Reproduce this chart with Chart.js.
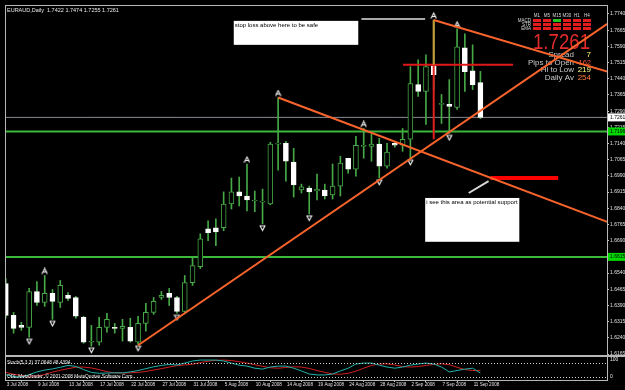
<!DOCTYPE html>
<html>
<head>
<meta charset="utf-8">
<script src="https://cdn.jsdelivr.net/npm/chart.js@4.4.1/dist/chart.umd.min.js"></script>
<style>
html, body { margin: 0; padding: 0; background: #000; }
canvas { display: block; }
</style>
</head>
<body>
<canvas id="chart" width="625" height="390"></canvas>
<script>
// EURAUD daily candles, 3 Jul - 12 Sep 2008
const dateLabels = ['3 Jul 2008', '9 Jul 2008', '13 Jul 2008', '17 Jul 2008', '22 Jul 2008', '27 Jul 2008', '31 Jul 2008', '5 Aug 2008',
    '10 Aug 2008', '14 Aug 2008', '19 Aug 2008', '24 Aug 2008', '28 Aug 2008', '2 Sep 2008', '7 Sep 2008', '11 Sep 2008'];

const opens = [1.6492, 1.6344, 1.6298, 1.6289, 1.6455, 1.6404, 1.6446, 1.6404, 1.6437, 1.6427, 1.6335, 1.6220, 1.6220, 1.6289, 1.6285, 1.6284,
    1.6289, 1.6220, 1.6307, 1.6358, 1.6427, 1.6446, 1.6427, 1.6363, 1.6496, 1.6570, 1.6745, 1.6750, 1.6750, 1.6860, 1.6916, 1.6897,
    1.6874, 1.6869, 1.6860, 1.7137, 1.7141, 1.7054, 1.6925, 1.6934, 1.6920, 1.6925, 1.6902, 1.6943, 1.7072, 1.7021, 1.7127, 1.7127,
    1.7137, 1.7035, 1.7141, 1.7132, 1.7160, 1.7413, 1.7381, 1.7500, 1.7321, 1.7321, 1.7307, 1.7583, 1.7477, 1.7422];
const highs = [1.6515, 1.6358, 1.6312, 1.6469, 1.6501, 1.6529, 1.6464, 1.6506, 1.6450, 1.6432, 1.6340, 1.6298, 1.6335, 1.6354, 1.6307, 1.6326,
    1.6331, 1.6340, 1.6400, 1.6427, 1.6455, 1.6469, 1.6432, 1.6529, 1.6612, 1.6722, 1.6782, 1.6791, 1.6916, 1.6980, 1.6985, 1.7045,
    1.6920, 1.6929, 1.7146, 1.7353, 1.7150, 1.7118, 1.6952, 1.6943, 1.6998, 1.6952, 1.7045, 1.7081, 1.7072, 1.7173, 1.7210, 1.7183,
    1.7164, 1.7141, 1.7150, 1.7210, 1.7496, 1.7528, 1.7551, 1.7712, 1.7367, 1.7436, 1.7671, 1.7648, 1.7597, 1.7474];
const lows = [1.6331, 1.6262, 1.6275, 1.6243, 1.6390, 1.6386, 1.6326, 1.6381, 1.6413, 1.6331, 1.6215, 1.6202, 1.6206, 1.6266, 1.6262, 1.6225,
    1.6220, 1.6211, 1.6271, 1.6349, 1.6418, 1.6390, 1.6354, 1.6354, 1.6483, 1.6561, 1.6690, 1.6667, 1.6736, 1.6837, 1.6851, 1.6828,
    1.6824, 1.6768, 1.6856, 1.7017, 1.6966, 1.6892, 1.6911, 1.6814, 1.6879, 1.6883, 1.6883, 1.6897, 1.7003, 1.6989, 1.7072, 1.7058,
    1.6980, 1.7026, 1.7123, 1.7104, 1.7072, 1.7358, 1.7229, 1.7390, 1.7233, 1.7187, 1.7298, 1.7381, 1.7390, 1.7255];
const closes = [1.6344, 1.6284, 1.6289, 1.6455, 1.6404, 1.6446, 1.6409, 1.6483, 1.6423, 1.6340, 1.6220, 1.6221, 1.6289, 1.6326, 1.6284, 1.6294,
    1.6225, 1.6307, 1.6358, 1.6409, 1.6437, 1.6427, 1.6363, 1.6496, 1.6575, 1.6699, 1.6727, 1.6731, 1.6860, 1.6916, 1.6897, 1.6879,
    1.6874, 1.6869, 1.7137, 1.7137, 1.7058, 1.6948, 1.6939, 1.6916, 1.6929, 1.6897, 1.6943, 1.7049, 1.7021, 1.7132, 1.7127, 1.7137,
    1.7035, 1.7100, 1.7132, 1.7160, 1.7418, 1.7381, 1.7496, 1.7459, 1.7321, 1.7312, 1.7588, 1.7473, 1.7413, 1.7261];

// Stoch(5,3,3)
const stochMain = [30, 22, 20, 30, 42, 50, 55, 62, 70, 66, 52, 40, 36, 37, 38, 38, 42, 48, 56, 64, 70, 74, 72, 80, 89, 93, 93, 93, 89, 80, 71, 67,
    58, 54, 63, 67, 67, 58, 46, 33, 29, 29, 33, 46, 58, 76, 80, 80, 71, 63, 58, 63, 71, 76, 80, 76, 63, 42, 48, 54, 58, 37.0648];
const stochSignal = [40, 32, 26, 24, 24, 31, 41, 49, 56, 62, 63, 59, 52, 43, 38, 37, 38, 40, 44, 50, 56, 63, 69, 72, 75, 82, 88, 92, 93, 91, 86, 80,
    73, 66, 60, 58, 61, 64, 63, 57, 48, 40, 33, 32, 36, 45, 58, 70, 76, 77, 72, 65, 63, 65, 70, 74, 77, 73, 62, 52, 48, 48.4394];
const stochLevels = [80, 20];

const priceTicks = [1.7740, 1.7665, 1.7590, 1.7515, 1.7440, 1.7365, 1.7290, 1.7215, 1.7140, 1.7065, 1.6990, 1.6915, 1.6840, 1.6765,
    1.6690, 1.6615, 1.6540, 1.6465, 1.6390, 1.6315, 1.6240, 1.6165];

// bill williams fractals (bar indexes)
const fractalUp = [5, 31, 35, 46, 55, 58];
const fractalDown = [3, 6, 11, 17, 22, 33, 39, 48, 52, 57];

// drawn objects: [bar index, price]
const levels = [1.7196, 1.6615];
const trendRise = [[17, 1.6206], [77.3, 1.7694]];
const trendFall = [[35, 1.7353], [77.3, 1.6777]];
const trendTop = [[55, 1.7712], [77.3, 1.7473]];
const poleUpper = [[55, 1.7712], [55, 1.7505]];
const poleLower = [[55, 1.7505], [55, 1.7160]];
const stopLine = [[45.7, 1.7717], [53.9, 1.7717]];
const resistLine = [[51.05, 1.7505], [65.2, 1.7505]];
const supportLine = [[62.3, 1.6980], [71.0, 1.6980]];
const pointerLine = [[59.5, 1.6911], [62.05, 1.6966]];

const notes = [
    { x0: 29.3, y0: 1.7708, x1: 45.3, y1: 1.7597, text: 'stop loss above here to be safe' },
    { x0: 53.9, y0: 1.6888, x1: 66.0, y1: 1.6685, text: 'i see this area as potential support' }
];

const frames = ['M1', 'M5', 'M15', 'M30', 'H1', 'H4'];
const indicators = ['MACD', 'STR', 'EMA'];
const signals = ['RRGRRR', 'RRRRRR', 'RRRRRR'];
const infoRows = [['Spread', '7', '#ffff66'], ['Pips to Open', '-162', '#ff5533'], ['Hi to Low', '219', '#ffff88'], ['Daily Av', '254', '#ff7a3a']];

const FONT = '"Liberation Sans", Arial, sans-serif';
const GREEN = '#46a846';
const ORANGE = '#f8642c';
const X_MIN = -0.102, X_MAX = 77.27;
const paneFloor = 1.6156;

const idx = opens.map((_, i) => i);
const bull = i => closes[i] >= opens[i];
const pts = arr => arr.map(p => ({ x: p[0], y: p[1] }));

function segment(data, color, width, order) {
    return { type: 'line', data: pts(data), borderColor: color, borderWidth: width, pointRadius: 0, yAxisID: 'y', order: order };
}

// small "A" / "V" markers, offset from the centre so they sit beyond the high / low
function glyph(up) {
    const c = document.createElement('canvas');
    c.width = 7; c.height = 16;
    const g = c.getContext('2d');
    g.strokeStyle = '#f4f4f4';
    g.lineWidth = 1.1;
    g.beginPath();
    if (up) {
        g.moveTo(0.8, 6.5); g.lineTo(3.5, 1); g.lineTo(6.2, 6.5);
        g.moveTo(2, 4.5); g.lineTo(5, 4.5);
    } else {
        g.moveTo(0.8, 9.5); g.lineTo(3.5, 14.5); g.lineTo(6.2, 9.5);
        g.moveTo(1.5, 10); g.lineTo(5.5, 10);
    }
    g.stroke();
    return c;
}

function drawInfoPanel(chart) {
    const { ctx, chartArea: a } = chart;
    const r = a.right;
    ctx.save();
    ctx.font = '4.5px ' + FONT;
    ctx.fillStyle = '#d8d8d8';
    ctx.textBaseline = 'middle';
    ctx.textAlign = 'center';
    frames.forEach((f, k) => ctx.fillText(f, r - 70 + k * 10, 16));
    ctx.textAlign = 'right';
    indicators.forEach((n, j) => ctx.fillText(n, r - 76, 20.5 + j * 4));
    signals.forEach((row, j) => [...row].forEach((s, k) => {
        ctx.fillStyle = s === 'G' ? '#22c422' : '#e01c1c';
        ctx.fillRect(r - 74 + k * 10, 19 + j * 4, 8, 3);
    }));
    ctx.font = '22px ' + FONT;
    ctx.fillStyle = '#e42a2a';
    ctx.textAlign = 'left';
    ctx.textBaseline = 'alphabetic';
    ctx.fillText(closes[closes.length - 1].toFixed(4), r - 74, 49, 57);
    ctx.font = '8px ' + FONT;
    ctx.textBaseline = 'middle';
    ctx.textAlign = 'right';
    infoRows.forEach(([label, value, color], j) => {
        ctx.fillStyle = '#c8c8c8';
        ctx.fillText(label, r - 33, 55 + j * 7.6, 46);
        ctx.fillStyle = color;
        ctx.fillText(value, r - 16, 55 + j * 7.6, 15);
    });
    ctx.restore();
}

function drawNotes(chart) {
    const { ctx, scales: { x, y } } = chart;
    ctx.save();
    notes.forEach(n => {
        const l = x.getPixelForValue(n.x0), t = y.getPixelForValue(n.y0);
        const w = x.getPixelForValue(n.x1) - l, h = y.getPixelForValue(n.y1) - t;
        ctx.fillStyle = '#ffffff';
        ctx.fillRect(l, t, w, h);
        ctx.fillStyle = '#000000';
        ctx.font = '6px ' + FONT;
        ctx.textBaseline = 'top';
        ctx.fillText(n.text, l + 1, t + 1.5, w - 2);
    });
    ctx.restore();
}

function drawPanes(chart) {
    const { ctx, chartArea: a, scales: { y, ys }, width } = chart;
    ctx.save();
    ctx.strokeStyle = '#b8b8b8';
    ctx.lineWidth = 1;
    ctx.strokeRect(a.left + 0.5, a.top + 0.5, a.right - a.left, a.bottom - a.top);
    const split = Math.round(y.getPixelForValue(paneFloor));
    ctx.lineWidth = 2;
    ctx.beginPath(); ctx.moveTo(a.left, split); ctx.lineTo(width, split); ctx.stroke();

    ctx.setLineDash([1, 2]);
    ctx.lineWidth = 1;
    ctx.strokeStyle = '#d0d0d0';
    stochLevels.forEach(v => {
        const py = Math.round(ys.getPixelForValue(v)) + 0.5;
        ctx.beginPath(); ctx.moveTo(a.left, py); ctx.lineTo(a.right, py); ctx.stroke();
    });
    ctx.setLineDash([]);

    ctx.fillStyle = '#e8e8e8';
    ctx.font = '5px ' + FONT;
    ctx.textBaseline = 'middle';
    ctx.fillText('100', a.right + 3, Math.max(ys.getPixelForValue(100), split + 4));
    ctx.fillText('0', a.right + 3, Math.min(ys.getPixelForValue(0), a.bottom - 3));

    const last = closes.length - 1;
    ctx.font = '5.5px ' + FONT;
    ctx.fillText('EURAUD,Daily  ' + [opens[last], highs[last], lows[last], closes[last]].map(v => v.toFixed(4)).join(' '), a.left + 2, a.top + 5);
    ctx.font = '4.8px ' + FONT;
    ctx.fillText('Stoch(5,3,3) ' + stochMain[last].toFixed(4) + ' ' + stochSignal[last].toFixed(4), a.left + 2, split + 7);
    ctx.fillText('ODL MetaTrader, \u00a9 2001-2008 MetaQuotes Software Corp.', a.left + 2, a.bottom - 3);
    ctx.restore();
}

function drawPriceTags(chart) {
    const { ctx, chartArea: a, scales: { y } } = chart;
    const tags = [[closes[closes.length - 1], '#ffffff']].concat(levels.map(v => [v, '#00d800']));
    ctx.save();
    ctx.font = '5px ' + FONT;
    ctx.textBaseline = 'middle';
    tags.forEach(([v, bg]) => {
        const py = y.getPixelForValue(v);
        ctx.fillStyle = bg;
        ctx.fillRect(a.right + 1, py - 4, 17, 8);
        ctx.fillStyle = '#000000';
        ctx.fillText(v.toFixed(4), a.right + 3, py);
    });
    ctx.restore();
}

const paint = {
    id: 'paint',
    beforeDraw(chart) {
        const { ctx, width, height } = chart;
        ctx.save();
        ctx.fillStyle = '#000000';
        ctx.fillRect(0, 0, width, height);
        ctx.restore();
    },
    beforeDatasetsDraw(chart) { drawInfoPanel(chart); },
    afterDatasetsDraw(chart) { drawNotes(chart); drawPanes(chart); },
    afterDraw(chart) { drawPriceTags(chart); }
};

new Chart(document.getElementById('chart'), {
    type: 'bar',
    data: {
        datasets: [
            // levels & bid line
            ...levels.map(v => segment([[X_MIN, v], [X_MAX, v]], '#3cb83c', 2, 9)),
            segment([[X_MIN, closes[closes.length - 1]], [X_MAX, closes[closes.length - 1]]], '#8a8a96', 1, 9),
            {
                type: 'bar', data: idx.map(i => ({ x: i, y: [lows[i], highs[i]] })),
                backgroundColor: GREEN, borderWidth: 0, barThickness: 1, grouped: false, order: 6
            },
            {
                type: 'bar', data: idx.map(i => ({ x: i, y: [opens[i], closes[i]] })),
                backgroundColor: idx.map(i => bull(i) ? '#000000' : '#ffffff'),
                borderColor: idx.map(i => bull(i) ? GREEN : '#ffffff'),
                borderWidth: 1, borderSkipped: false, barThickness: 5, minBarLength: 1, grouped: false, order: 5
            },
            {
                type: 'line', data: fractalUp.map(i => ({ x: i, y: highs[i] })), showLine: false,
                pointStyle: glyph(true), pointRadius: 4, yAxisID: 'y', order: 4
            },
            {
                type: 'line', data: fractalDown.map(i => ({ x: i, y: lows[i] })), showLine: false,
                pointStyle: glyph(false), pointRadius: 4, yAxisID: 'y', order: 4
            },
            segment(resistLine, '#e01818', 2, 3),
            segment(supportLine, '#ff0000', 4, 3),
            segment(stopLine, '#a8a8a8', 2, 3),
            segment(pointerLine, '#d8d8d8', 2, 3),
            segment(poleLower, '#e02020', 2, 2),
            segment(poleUpper, '#c89a3a', 2, 2),
            segment(trendRise, ORANGE, 2, 1),
            segment(trendFall, ORANGE, 2, 1),
            segment(trendTop, ORANGE, 2, 1),
            // stochastic pane
            {
                type: 'line', data: idx.map(i => ({ x: i, y: stochSignal[i] })), borderColor: '#d02020',
                borderWidth: 1, pointRadius: 0, yAxisID: 'ys', order: 1
            },
            {
                type: 'line', data: idx.map(i => ({ x: i, y: stochMain[i] })), borderColor: '#20b2aa',
                borderWidth: 1, pointRadius: 0, yAxisID: 'ys', order: 0
            }
        ]
    },
    options: {
        responsive: false,
        animation: false,
        events: [],
        layout: { padding: { left: 2, top: 3, right: 0, bottom: 0 } },
        plugins: { legend: { display: false }, tooltip: { enabled: false } },
        scales: {
            x: {
                type: 'linear', min: X_MIN, max: X_MAX, offset: false, position: 'bottom',
                afterFit: s => { s.height = 10; },
                afterBuildTicks: s => { s.ticks = dateLabels.map((_, k) => ({ value: k * 4 })); },
                ticks: {
                    autoSkip: false, maxRotation: 0, minRotation: 0, align: 'start', padding: 0, labelOffset: 1,
                    color: '#e0e0e0', font: { size: 4.6, family: FONT },
                    callback: v => dateLabels[v / 4]
                },
                grid: { drawOnChartArea: false, tickLength: 2, color: '#c0c0c0' },
                border: { color: '#c0c0c0' }
            },
            y: {
                type: 'linear', position: 'right', min: 1.6045, max: 1.77815,
                afterFit: s => { s.width = 18; },
                afterBuildTicks: s => { s.ticks = priceTicks.map(v => ({ value: v })); },
                ticks: { padding: 1, color: '#e0e0e0', font: { size: 5, family: FONT }, callback: v => v.toFixed(4) },
                grid: { drawOnChartArea: false, tickLength: 2, color: '#c0c0c0' },
                border: { color: '#c0c0c0' }
            },
            ys: { type: 'linear', position: 'right', display: false, min: 7.14, max: 1622.9 }
        }
    },
    plugins: [paint]
});
</script>
</body>
</html>
